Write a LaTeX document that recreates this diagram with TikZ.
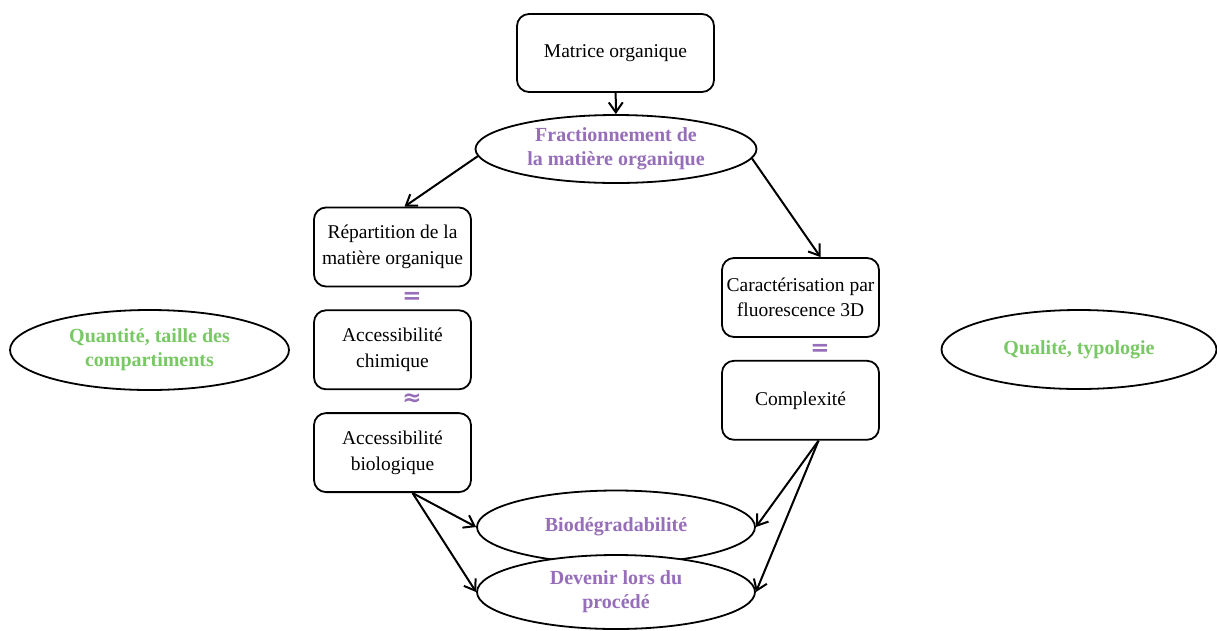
\documentclass[tikz,border=0pt]{standalone}
\usepackage{fontspec}
\setmainfont{Liberation Serif}
\newfontfamily\signefont{DejaVu Sans}
\usetikzlibrary{arrows.meta,positioning,shapes.geometric}
\definecolor{mauve}{RGB}{150,110,185}
\definecolor{vertclair}{RGB}{120,200,100}

\begin{document}
\begin{tikzpicture}[x=1pt,y=-1pt,font=\fontsize{19.5}{25.5}\selectfont,node distance=22pt,
  box/.style={draw,line width=1.8pt,rounded corners=12pt,align=center,minimum width=157pt,minimum height=79pt},
  ell/.style={ellipse,draw,line width=1.8pt,fill=white,align=center,inner sep=0pt},
  titre/.style={text=mauve,font=\fontsize{20}{24}\selectfont\bfseries},
  vert/.style={text=vertclair,font=\fontsize{20}{24}\selectfont\bfseries},
  signe/.style={text=mauve,font=\signefont\bfseries\fontsize{23}{23}\selectfont,inner sep=0pt},
  >={Straight Barb[length=10pt,width=14pt]},line width=2pt]
\useasboundingbox (0,0) rectangle (1217,630);
\node[box,minimum width=197pt,minimum height=78pt] (matrice) at (615.5,53) {Matrice organique};
\node[ell,titre,minimum width=281pt,minimum height=68pt] (fract) at (616,149) {Fractionnement de\\la matière organique};
% colonne de gauche
\node[box] (repart) at (392.5,247) {Répartition de la\\matière organique};
\node[box,below=of repart] (chim) {Accessibilité\\chimique};
\node[box,below=of chim] (bio) {Accessibilité\\biologique};
\node[signe] (eg1) at (412,298) {=};
\node[signe] (approx) at (412,400) {≈};
% colonne de droite
\node[box] (caract) at (800.5,297.5) {Caractérisation par\\fluorescence 3D};
\node[box,below=of caract] (complex) {Complexité};
\node[signe] (eg2) at (820,350) {=};
% ellipses
\node[ell,vert,minimum width=279pt,minimum height=80pt] (quant) at (149.5,350) {Quantité, taille des\\compartiments};
\node[ell,vert,minimum width=275pt,minimum height=79pt] (qual) at (1079,349.5) {Qualité, typologie};
\node[ell,titre,minimum width=278pt,minimum height=73pt] (biodeg) at (616,527) {Biodégradabilité};
\node[ell,titre,minimum width=278pt,minimum height=74pt] (devenir) at (616,592) {Devenir lors du\\procédé};
\coordinate (bioout) at ([xshift=20pt]bio.south);
\coordinate (cplxout) at ([xshift=18pt]complex.south);
\draw[->] (matrice) -- (fract);
\draw[->] (fract.183) -- ([xshift=12pt]repart.north);
\draw[->] (fract.-4) -- ([xshift=20pt]caract.north);
\draw[->] (bioout) -- (biodeg.west);
\draw[->] (bioout) -- (devenir.west);
\draw[->] (cplxout) -- (biodeg.east);
\draw[->] (cplxout) -- (devenir.east);
\end{tikzpicture}
\end{document}
